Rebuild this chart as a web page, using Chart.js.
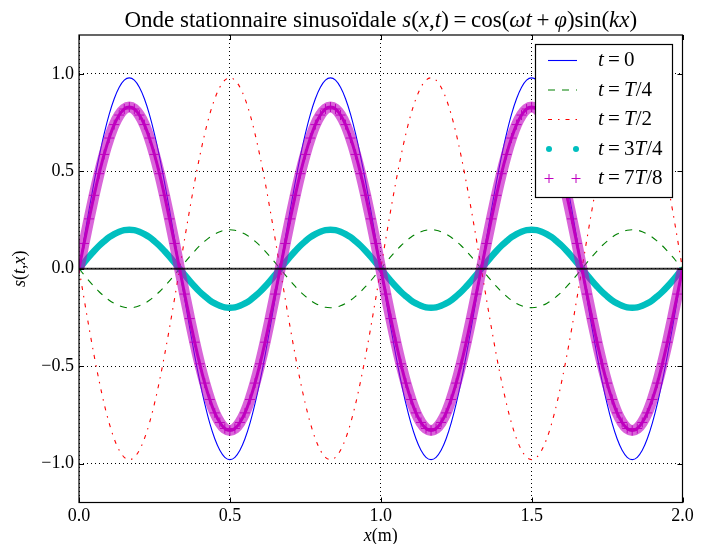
<!DOCTYPE html>
<html><head><meta charset="utf-8">
<script src="https://cdn.jsdelivr.net/npm/chart.js@4/dist/chart.umd.min.js"></script>
<style>html,body{margin:0;padding:0;background:#fff;}</style>
</head><body>
<canvas id="c" width="710" height="544"></canvas>
<script>
// ---------- data ----------
const xPositions = [
0,0.0167,0.0333,0.05,0.0667,0.0833,0.1,0.1167,0.1333,0.15,0.1667,0.1833,0.2,0.2167,0.2333,0.25,0.2667,0.2833,0.3,0.3167,
0.3333,0.35,0.3667,0.3833,0.4,0.4167,0.4333,0.45,0.4667,0.4833,0.5,0.5167,0.5333,0.55,0.5667,0.5833,0.6,0.6167,0.6333,0.65,
0.6667,0.6833,0.7,0.7167,0.7333,0.75,0.7667,0.7833,0.8,0.8167,0.8333,0.85,0.8667,0.8833,0.9,0.9167,0.9333,0.95,0.9667,0.9833,
1,1.0167,1.0333,1.05,1.0667,1.0833,1.1,1.1167,1.1333,1.15,1.1667,1.1833,1.2,1.2167,1.2333,1.25,1.2667,1.2833,1.3,1.3167,
1.3333,1.35,1.3667,1.3833,1.4,1.4167,1.4333,1.45,1.4667,1.4833,1.5,1.5167,1.5333,1.55,1.5667,1.5833,1.6,1.6167,1.6333,1.65,
1.6667,1.6833,1.7,1.7167,1.7333,1.75,1.7667,1.7833,1.8,1.8167,1.8333,1.85,1.8667,1.8833,1.9,1.9167,1.9333,1.95,1.9667,1.9833,
2];

const sT0 = [0,
.153,.303,.445,.576,.693,.793,.873,.932,.968,.98,.968,.932,.873,.793,.693,.576,.445,.303,.153,0,
-.153,-.303,-.445,-.576,-.693,-.793,-.873,-.932,-.968,-.98,-.968,-.932,-.873,-.793,-.693,-.576,-.445,-.303,-.153,0,
.153,.303,.445,.576,.693,.793,.873,.932,.968,.98,.968,.932,.873,.793,.693,.576,.445,.303,.153,0,
-.153,-.303,-.445,-.576,-.693,-.793,-.873,-.932,-.968,-.98,-.968,-.932,-.873,-.793,-.693,-.576,-.445,-.303,-.153,0,
.153,.303,.445,.576,.693,.793,.873,.932,.968,.98,.968,.932,.873,.793,.693,.576,.445,.303,.153,0,
-.153,-.303,-.445,-.576,-.693,-.793,-.873,-.932,-.968,-.98,-.968,-.932,-.873,-.793,-.693,-.576,-.445,-.303,-.153,0];

const sT4 = [0,
-.031,-.062,-.091,-.118,-.141,-.162,-.178,-.19,-.198,-.2,-.198,-.19,-.178,-.162,-.141,-.118,-.091,-.062,-.031,0,
.031,.062,.091,.118,.141,.162,.178,.19,.198,.2,.198,.19,.178,.162,.141,.118,.091,.062,.031,0,
-.031,-.062,-.091,-.118,-.141,-.162,-.178,-.19,-.198,-.2,-.198,-.19,-.178,-.162,-.141,-.118,-.091,-.062,-.031,0,
.031,.062,.091,.118,.141,.162,.178,.19,.198,.2,.198,.19,.178,.162,.141,.118,.091,.062,.031,0,
-.031,-.062,-.091,-.118,-.141,-.162,-.178,-.19,-.198,-.2,-.198,-.19,-.178,-.162,-.141,-.118,-.091,-.062,-.031,0,
.031,.062,.091,.118,.141,.162,.178,.19,.198,.2,.198,.19,.178,.162,.141,.118,.091,.062,.031,0];

const sT2 = [0,
-.153,-.303,-.445,-.576,-.693,-.793,-.873,-.932,-.968,-.98,-.968,-.932,-.873,-.793,-.693,-.576,-.445,-.303,-.153,0,
.153,.303,.445,.576,.693,.793,.873,.932,.968,.98,.968,.932,.873,.793,.693,.576,.445,.303,.153,0,
-.153,-.303,-.445,-.576,-.693,-.793,-.873,-.932,-.968,-.98,-.968,-.932,-.873,-.793,-.693,-.576,-.445,-.303,-.153,0,
.153,.303,.445,.576,.693,.793,.873,.932,.968,.98,.968,.932,.873,.793,.693,.576,.445,.303,.153,0,
-.153,-.303,-.445,-.576,-.693,-.793,-.873,-.932,-.968,-.98,-.968,-.932,-.873,-.793,-.693,-.576,-.445,-.303,-.153,0,
.153,.303,.445,.576,.693,.793,.873,.932,.968,.98,.968,.932,.873,.793,.693,.576,.445,.303,.153,0];

const s3T4 = [0,
.031,.062,.091,.118,.141,.162,.178,.19,.198,.2,.198,.19,.178,.162,.141,.118,.091,.062,.031,0,
-.031,-.062,-.091,-.118,-.141,-.162,-.178,-.19,-.198,-.2,-.198,-.19,-.178,-.162,-.141,-.118,-.091,-.062,-.031,0,
.031,.062,.091,.118,.141,.162,.178,.19,.198,.2,.198,.19,.178,.162,.141,.118,.091,.062,.031,0,
-.031,-.062,-.091,-.118,-.141,-.162,-.178,-.19,-.198,-.2,-.198,-.19,-.178,-.162,-.141,-.118,-.091,-.062,-.031,0,
.031,.062,.091,.118,.141,.162,.178,.19,.198,.2,.198,.19,.178,.162,.141,.118,.091,.062,.031,0,
-.031,-.062,-.091,-.118,-.141,-.162,-.178,-.19,-.198,-.2,-.198,-.19,-.178,-.162,-.141,-.118,-.091,-.062,-.031,0];

const s7T8 = [0,
.13,.256,.377,.488,.587,.671,.74,.789,.82,.83,.82,.789,.74,.671,.587,.488,.377,.256,.13,0,
-.13,-.256,-.377,-.488,-.587,-.671,-.74,-.789,-.82,-.83,-.82,-.789,-.74,-.671,-.587,-.488,-.377,-.256,-.13,0,
.13,.256,.377,.488,.587,.671,.74,.789,.82,.83,.82,.789,.74,.671,.587,.488,.377,.256,.13,0,
-.13,-.256,-.377,-.488,-.587,-.671,-.74,-.789,-.82,-.83,-.82,-.789,-.74,-.671,-.587,-.488,-.377,-.256,-.13,0,
.13,.256,.377,.488,.587,.671,.74,.789,.82,.83,.82,.789,.74,.671,.587,.488,.377,.256,.13,0,
-.13,-.256,-.377,-.488,-.587,-.671,-.74,-.789,-.82,-.83,-.82,-.789,-.74,-.671,-.587,-.488,-.377,-.256,-.13,0];

const seriesLabels = ['t=0', 't=T/4', 't=T/2', 't=3T/4', 't=7T/8'];
const xTicks = [0, 0.5, 1, 1.5, 2];
const yTicks = [-1, -0.5, 0, 0.5, 1];
const titleText = 'Onde stationnaire sinusoïdale ';
const titleMath = 's(x,t)=cos(ωt+φ)sin(kx)';
const xLabel = 'x(m)';
const yLabel = 's(t,x)';

// ---------- styling ----------
const FONT = '"Liberation Serif","DejaVu Serif",serif';
const C_BLUE = '#0000ff', C_GREEN = '#008000', C_RED = '#ff0000', C_CYAN = '#00bfbf', C_MAG = '#bf00bf';
const DASH_GREEN = [7, 7];
const DASH_RED = [4, 6, 1.5, 6];

function mathSegs(str, romanWords) {
  const segs = [];
  let i = 0;
  while (i < str.length) {
    let matched = false;
    for (const w of (romanWords || [])) {
      if (str.startsWith(w, i)) { segs.push([w, false]); i += w.length; matched = true; break; }
    }
    if (matched) continue;
    const ch = str[i];
    if (ch === '=' || ch === '+') segs.push(['\u2009' + ch + '\u2009', false]);
    else segs.push([ch, /[A-Za-zα-ωφ]/.test(ch)]);
    i++;
  }
  return segs;
}
function drawRich(ctx, segs, x, y, size, align) {
  const fonts = segs.map(s => (s[1] ? 'italic ' : '') + size + 'px ' + FONT);
  let w = 0;
  segs.forEach((s, i) => { ctx.font = fonts[i]; w += ctx.measureText(s[0]).width; });
  let cx = align === 'center' ? x - w / 2 : x;
  ctx.textBaseline = 'middle'; ctx.textAlign = 'left'; ctx.fillStyle = '#000';
  segs.forEach((s, i) => { ctx.font = fonts[i]; ctx.fillText(s[0], cx, y); cx += ctx.measureText(s[0]).width; });
  return w;
}

const deco = {
  id: 'deco',
  afterDatasetsDraw(chart) {
    const { ctx, chartArea: a, scales: { x, y } } = chart;
    ctx.save();
    const y0 = y.getPixelForValue(0);
    ctx.beginPath(); ctx.moveTo(a.left, y0); ctx.lineTo(a.right, y0);
    ctx.strokeStyle = 'rgba(0,0,0,0.8)'; ctx.lineWidth = 2; ctx.stroke();
    ctx.strokeStyle = '#000'; ctx.lineWidth = 1.2;
    ctx.strokeRect(a.left, a.top, a.right - a.left, a.bottom - a.top);
    ctx.lineWidth = 1;
    ctx.beginPath();
    xTicks.forEach(v => {
      const px = Math.round(x.getPixelForValue(v)) + 0.5;
      ctx.moveTo(px, a.bottom); ctx.lineTo(px, a.bottom - 5);
      ctx.moveTo(px, a.top); ctx.lineTo(px, a.top + 5);
    });
    yTicks.forEach(v => {
      const py = Math.round(y.getPixelForValue(v)) + 0.5;
      ctx.moveTo(a.left, py); ctx.lineTo(a.left + 5, py);
      ctx.moveTo(a.right, py); ctx.lineTo(a.right - 5, py);
    });
    ctx.stroke();
    ctx.restore();
  },
  afterDraw(chart) {
    const { ctx, chartArea: a } = chart;
    ctx.save();
    const tSegs = [[titleText, false]].concat(mathSegs(titleMath, ['cos', 'sin']));
    drawRich(ctx, tSegs, (a.left + a.right) / 2, 21, 23, 'center');
    drawRich(ctx, mathSegs(xLabel, ['m']), (a.left + a.right) / 2, 536, 18, 'center');
    ctx.save();
    ctx.translate(20, (a.top + a.bottom) / 2);
    ctx.rotate(-Math.PI / 2);
    drawRich(ctx, mathSegs(yLabel), 0, 0, 18, 'center');
    ctx.restore();
    // legend
    const lx = 535.5, ly = 44.5, lw = 137, lh = 153;
    ctx.fillStyle = '#fff'; ctx.fillRect(lx, ly, lw, lh);
    ctx.strokeStyle = '#000'; ctx.lineWidth = 1.2; ctx.strokeRect(lx, ly, lw, lh);
    const rows = [60.5, 90, 119.5, 149, 178.5];
    const x1 = 548, x2 = 577;
    chart.data.datasets.slice(0, 5).forEach((ds, i) => {
      const ry = rows[i];
      ctx.save();
      if (i < 3) {
        ctx.strokeStyle = ds.borderColor; ctx.lineWidth = 1.1;
        ctx.setLineDash(ds.borderDash || []);
        ctx.beginPath(); ctx.moveTo(x1, ry); ctx.lineTo(x2, ry); ctx.stroke();
      } else if (i === 3) {
        ctx.fillStyle = C_CYAN;
        [x1 + 1, x2 - 1].forEach(px => { ctx.beginPath(); ctx.arc(px, ry, 3, 0, Math.PI * 2); ctx.fill(); });
      } else {
        ctx.strokeStyle = C_MAG; ctx.lineWidth = 1;
        [x1 + 1, x2 - 1].forEach(px => {
          ctx.beginPath(); ctx.moveTo(px - 4.5, ry); ctx.lineTo(px + 4.5, ry);
          ctx.moveTo(px, ry - 4.5); ctx.lineTo(px, ry + 4.5); ctx.stroke();
        });
      }
      ctx.restore();
      drawRich(ctx, mathSegs(seriesLabels[i]), 598, ry, 21, 'left');
    });
    ctx.restore();
  }
};

const common = { pointRadius: 0, cubicInterpolationMode: 'monotone', clip: 0, fill: false };

new Chart(document.getElementById('c'), {
  type: 'line',
  data: {
    labels: xPositions,
    datasets: [
      Object.assign({ label: seriesLabels[0], data: sT0, borderColor: C_BLUE, borderWidth: 1.1, order: 6 }, common),
      Object.assign({ label: seriesLabels[1], data: sT4, borderColor: C_GREEN, borderWidth: 1.1, borderDash: DASH_GREEN, order: 5 }, common),
      Object.assign({ label: seriesLabels[2], data: sT2, borderColor: C_RED, borderWidth: 1.1, borderDash: DASH_RED, order: 4 }, common),
      Object.assign({ label: seriesLabels[3], data: s3T4, borderColor: C_CYAN, borderWidth: 6.5, order: 3 }, common),
      Object.assign({ label: seriesLabels[4], data: s7T8, borderColor: 'rgba(191,0,191,0.6)', borderWidth: 11, order: 2 }, common),
      Object.assign({}, common, { label: seriesLabels[4] + ' ', data: s7T8, borderColor: C_MAG, borderWidth: 3, order: 1,
        pointRadius: 5, pointStyle: 'cross', pointBorderColor: C_MAG, pointBackgroundColor: C_MAG, pointBorderWidth: 1 })
    ]
  },
  options: {
    responsive: false, animation: false, devicePixelRatio: 1,
    layout: { padding: { left: 0, right: 27.5, top: 35, bottom: 0 } },
    plugins: { legend: { display: false }, tooltip: { enabled: false }, title: { display: false } },
    scales: {
      x: {
        type: 'linear', min: 0, max: 2,
        afterBuildTicks: s => { s.ticks = xTicks.map(v => ({ value: v })); },
        afterFit: s => { s.height = 41.5; },
        ticks: { callback: v => Number(v).toFixed(1), font: { family: FONT, size: 18 }, color: '#000', padding: 3, maxRotation: 0, autoSkip: false },
        grid: { color: '#000', lineWidth: 1, drawTicks: false },
        border: { display: false, dash: [1, 3] }
      },
      y: {
        type: 'linear', min: -1.2, max: 1.2,
        afterBuildTicks: s => { s.ticks = yTicks.map(v => ({ value: v })); },
        afterFit: s => { s.width = 79; },
        ticks: { callback: v => (v < 0 ? '\u2212' : '') + Math.abs(v).toFixed(1), font: { family: FONT, size: 18 }, color: '#000', padding: 5, autoSkip: false },
        grid: { color: '#000', lineWidth: 1, drawTicks: false },
        border: { display: false, dash: [1, 3] }
      }
    }
  },
  plugins: [deco]
});
</script>
</body></html>
